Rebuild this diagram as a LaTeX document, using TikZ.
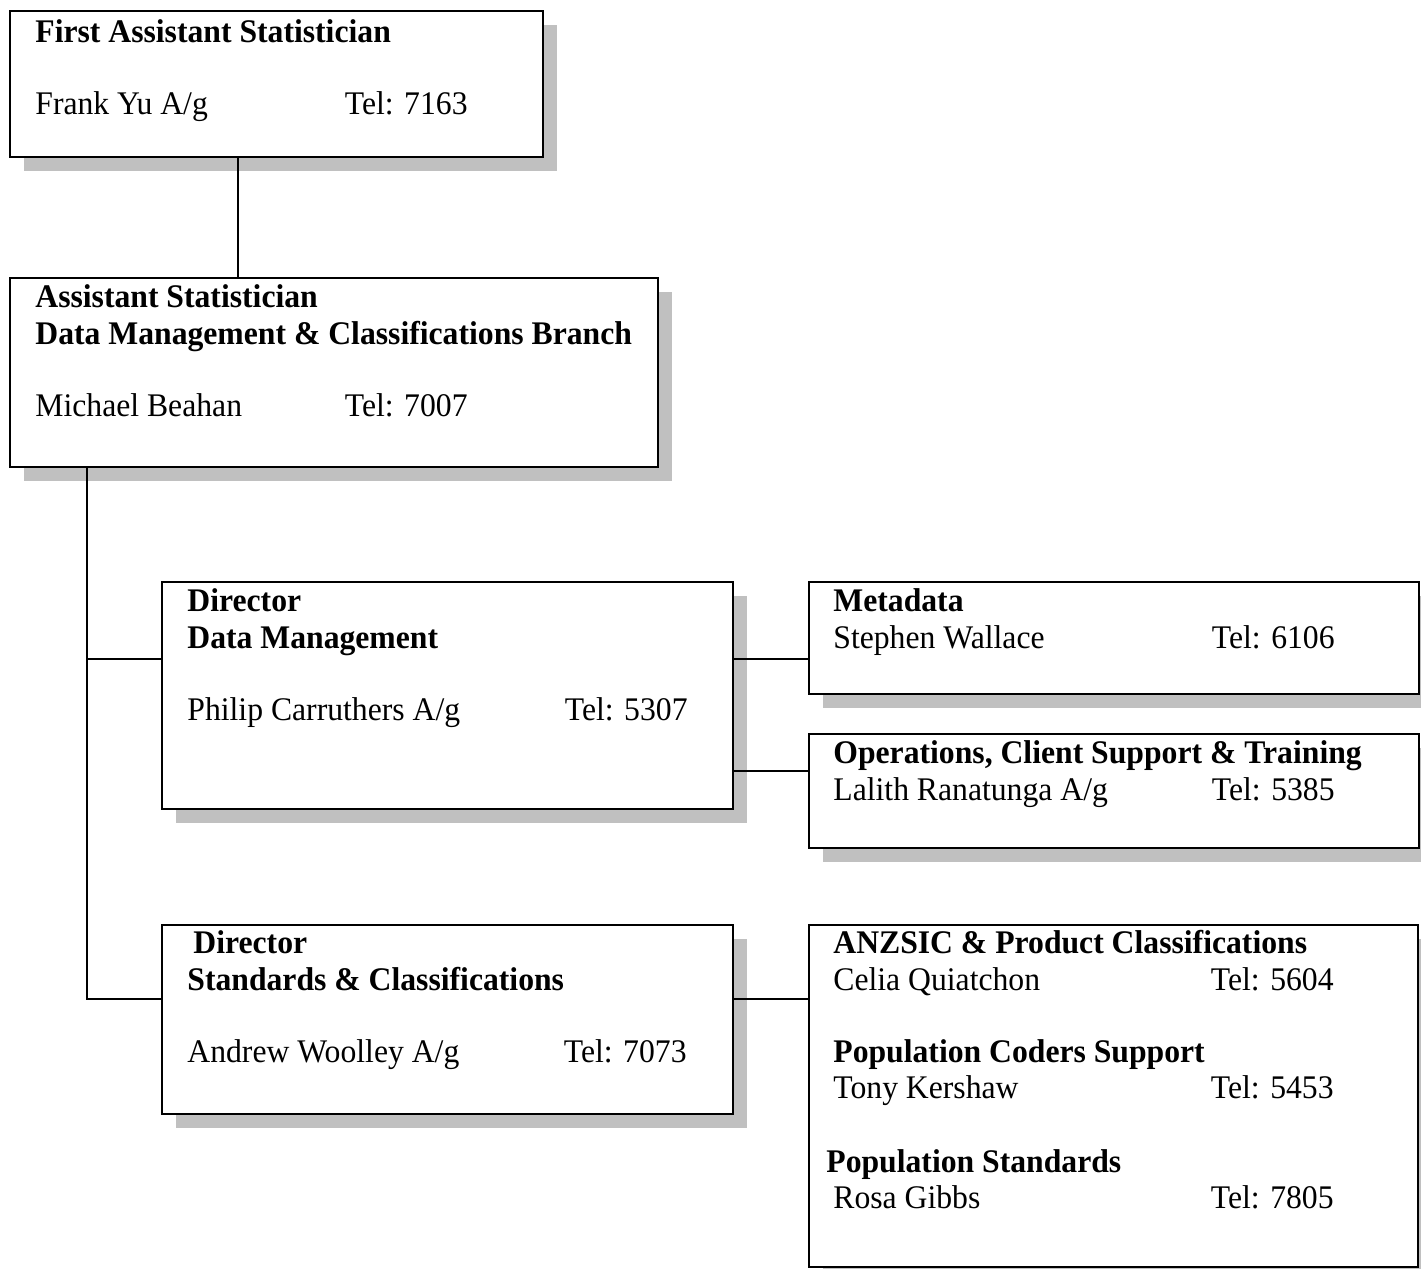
\documentclass[tikz,border=0pt]{standalone}
\usepackage{fontspec}
\setmainfont[FakeStretch=0.96]{Liberation Serif}
\usetikzlibrary{shadows}
\definecolor{shadowgray}{RGB}{192,192,192}
\tikzset{
  orgbox/.style={draw=black, line width=1pt, fill=white, rectangle, inner sep=0pt,
    drop shadow={shadow xshift=7pt, shadow yshift=-7pt, fill=shadowgray, opacity=1}},
  txt/.style={anchor=base west, inner sep=0pt, font=\fontsize{16.5}{19}\selectfont},
  btxt/.style={txt, font=\fontsize{16.5}{19}\selectfont\bfseries},
  tel/.style={txt, anchor=base east},
  conn/.style={line width=0.75pt, draw=black}
}
\begin{document}
\begin{tikzpicture}[x=0.5pt, y=-0.5pt]
\useasboundingbox (0,0) rectangle (1421,1269);
% boxes
\node[orgbox, minimum width=266.5pt, minimum height=73pt] (b1) at (276.5,84) {};
\node[orgbox, minimum width=324pt, minimum height=94.5pt] (b2) at (334,372.5) {};
\node[orgbox, minimum width=285.5pt, minimum height=113.5pt] (d1) at (447.5,695.5) {};
\node[orgbox, minimum width=305pt, minimum height=56pt] (m1) at (1114,638) {};
\node[orgbox, minimum width=305pt, minimum height=57pt] (m2) at (1114,791) {};
\node[orgbox, minimum width=285.5pt, minimum height=94.5pt] (d2) at (447.5,1019.5) {};
\node[orgbox, minimum width=304.5pt, minimum height=171pt] (m3) at (1113.5,1096) {};
% connectors
\coordinate (vx1) at (238,0);
\coordinate (vx2) at (87,0);
\coordinate (hy1) at (0,659);
\coordinate (hy2) at (0,771);
\coordinate (hy3) at (0,999);
\draw[conn] (b1.south -| vx1) -- (b2.north -| vx1);
\draw[conn] (b2.south -| vx2) -- (hy3 -| vx2) -- (hy3 -| d2.west);
\draw[conn] (hy1 -| vx2) -- (hy1 -| d1.west);
\draw[conn] (hy1 -| d1.east) -- (hy1 -| m1.west);
\draw[conn] (hy2 -| d1.east) -- (hy2 -| m2.west);
\draw[conn] (hy3 -| d2.east) -- (hy3 -| m3.west);
% texts box 1
\node[btxt] (t1a) at (35,42) {First Assistant Statistician};
\node[txt] (t1b) at (35,114) {Frank Yu A/g};
\node[tel] (t1c) at (468,114) {Tel: 7163};
% box 2
\node[btxt] (t2a) at (35,307) {Assistant Statistician};
\node[btxt] (t2b) at (35,344) {Data Management \& Classifications Branch};
\node[txt] (t2c) at (35,416) {Michael Beahan};
\node[tel] (t2d) at (468,416) {Tel: 7007};
% director 1
\node[btxt] (t3a) at (187,611) {Director};
\node[btxt] (t3b) at (187,648) {Data Management};
\node[txt] (t3c) at (187,720) {Philip Carruthers A/g};
\node[tel] (t3d) at (688,720) {Tel: 5307};
% metadata
\node[btxt] (t4a) at (833,611) {Metadata};
\node[txt] (t4b) at (833,648) {Stephen Wallace};
\node[tel] (t4c) at (1335,648) {Tel: 6106};
% operations
\node[btxt] (t5a) at (833,763) {Operations, Client Support \& Training};
\node[txt] (t5b) at (833,800) {Lalith Ranatunga A/g};
\node[tel] (t5c) at (1335,800) {Tel: 5385};
% director 2
\node[btxt] (t6a) at (193,953) {Director};
\node[btxt] (t6b) at (187,990) {Standards \& Classifications};
\node[txt] (t6c) at (187,1062) {Andrew Woolley A/g};
\node[tel] (t6d) at (687,1062) {Tel: 7073};
% ANZSIC box
\node[btxt] (t7a) at (833,953) {ANZSIC \& Product Classifications};
\node[txt] (t7b) at (833,990) {Celia Quiatchon};
\node[tel] (t7c) at (1334,990) {Tel: 5604};
\node[btxt] (t7d) at (833,1062) {Population Coders Support};
\node[txt] (t7e) at (833,1098) {Tony Kershaw};
\node[tel] (t7f) at (1334,1098) {Tel: 5453};
\node[btxt] (t7g) at (826,1172) {Population Standards};
\node[txt] (t7h) at (833,1208) {Rosa Gibbs};
\node[tel] (t7i) at (1334,1208) {Tel: 7805};
\end{tikzpicture}
\end{document}
